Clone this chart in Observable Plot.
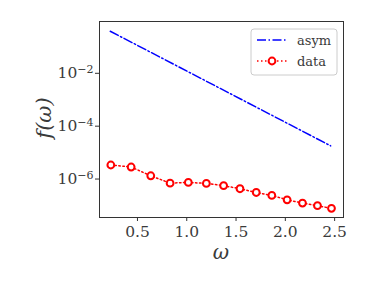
<!DOCTYPE html>
<html>
<head>
<meta charset="utf-8">
<script src="https://cdn.jsdelivr.net/npm/d3@7"></script>
<script src="https://cdn.jsdelivr.net/npm/@observablehq/plot@0.6"></script>
<style>
  html, body { margin: 0; padding: 0; background: white; }
</style>
</head>
<body>
<div id="chart"></div>
<script>
// Data
const omega = [0.23, 0.436, 0.635, 0.831, 1.016, 1.199, 1.374, 1.54, 1.705, 1.863, 2.018, 2.174, 2.326, 2.468];
const dataVals = [3.4e-6, 2.85e-6, 1.33e-6, 7.0e-7, 7.45e-7, 6.85e-7, 5.6e-7, 4.3e-7, 3.1e-7, 2.4e-7, 1.64e-7, 1.23e-7, 9.8e-8, 7.8e-8];
const asymOmega = [0.224, 2.46];
const asymVals = [0.39, 1.8e-5];
const xTicks = [0.5, 1.0, 1.5, 2.0, 2.5];
const yTicks = [1e-2, 1e-4, 1e-6];
const seriesNames = ["asym", "data"];

const dataRows = omega.map((w, i) => ({w, v: dataVals[i]}));
const asymRows = asymOmega.map((w, i) => ({w, v: asymVals[i]}));

const serif = "DejaVu Serif";
const textColor = "#3a3a3a";

const plot = Plot.plot({
  width: 382,
  height: 287,
  marginLeft: 99,
  marginRight: 39,
  marginTop: 21,
  marginBottom: 70,
  style: {fontFamily: serif, fontSize: "15.5px", background: "white", color: textColor},
  x: {domain: [0.115, 2.59]},
  y: {type: "log", domain: [Math.pow(10, -7.455), Math.pow(10, -0.04)]},
  marks: [
    Plot.axisX({ticks: xTicks, tickFormat: d3.format(".1f"), tickSize: 4, tickPadding: 4, label: null, stroke: "#333", fontFamily: serif}),
    Plot.axisY({ticks: yTicks, tickFormat: d => "e" + Math.round(Math.log10(d)), tickSize: 4, tickPadding: 2, label: null, stroke: "#333", fontFamily: serif}),
    Plot.line(asymRows, {x: "w", y: "v", stroke: "blue", strokeWidth: 1.5, strokeDasharray: "9,2.5,1.5,2.5"}),
    Plot.line(dataRows, {x: "w", y: "v", stroke: "red", strokeWidth: 1.5, strokeDasharray: "1.5,2.5"}),
    Plot.dot(dataRows, {x: "w", y: "v", r: 3.4, stroke: "red", strokeWidth: 2, fill: "white"}),
    Plot.frame({stroke: "#333", strokeWidth: 1})
  ]
});

const svg = d3.select(plot);

// Superscript tick labels 10^n
svg.selectAll('[aria-label="y-axis tick label"] text').each(function() {
  const t = d3.select(this);
  const exp = t.text().replace("e", "").replace("-", "\u2212");
  t.text("10");
  t.append("tspan").attr("dy", "-0.5em").attr("font-size", "11px").text(exp);
});

// Axis labels
svg.append("text")
  .attr("transform", "translate(51,118) rotate(-90)")
  .attr("text-anchor", "middle")
  .attr("font-family", serif)
  .attr("font-style", "italic")
  .attr("font-size", "21px")
  .attr("fill", textColor)
  .text("f(ω)");
svg.append("text")
  .attr("x", 221)
  .attr("y", 259)
  .attr("text-anchor", "middle")
  .attr("font-family", serif)
  .attr("font-style", "italic")
  .attr("font-size", "20px")
  .attr("fill", textColor)
  .text("ω");

// Legend
const lg = svg.append("g");
lg.append("rect").attr("x", 251).attr("y", 29).attr("width", 86).attr("height", 46)
  .attr("rx", 3).attr("fill", "white").attr("fill-opacity", 0.8)
  .attr("stroke", "#ccc").attr("stroke-width", 1);
lg.append("line").attr("x1", 257).attr("x2", 287).attr("y1", 40).attr("y2", 40)
  .attr("stroke", "blue").attr("stroke-width", 1.5).attr("stroke-dasharray", "9,2.5,1.5,2.5");
lg.append("line").attr("x1", 257).attr("x2", 287).attr("y1", 61).attr("y2", 61)
  .attr("stroke", "red").attr("stroke-width", 1.5).attr("stroke-dasharray", "1.5,2.5");
lg.append("circle").attr("cx", 272).attr("cy", 61).attr("r", 3.4)
  .attr("stroke", "red").attr("stroke-width", 2).attr("fill", "white");
seriesNames.forEach((name, i) => {
  lg.append("text").attr("x", 297).attr("y", i === 0 ? 45 : 66)
    .attr("text-anchor", "start")
    .attr("font-family", serif).attr("font-size", "13px").attr("fill", textColor)
    .text(name);
});

document.getElementById("chart").appendChild(plot);
</script>
</body>
</html>
